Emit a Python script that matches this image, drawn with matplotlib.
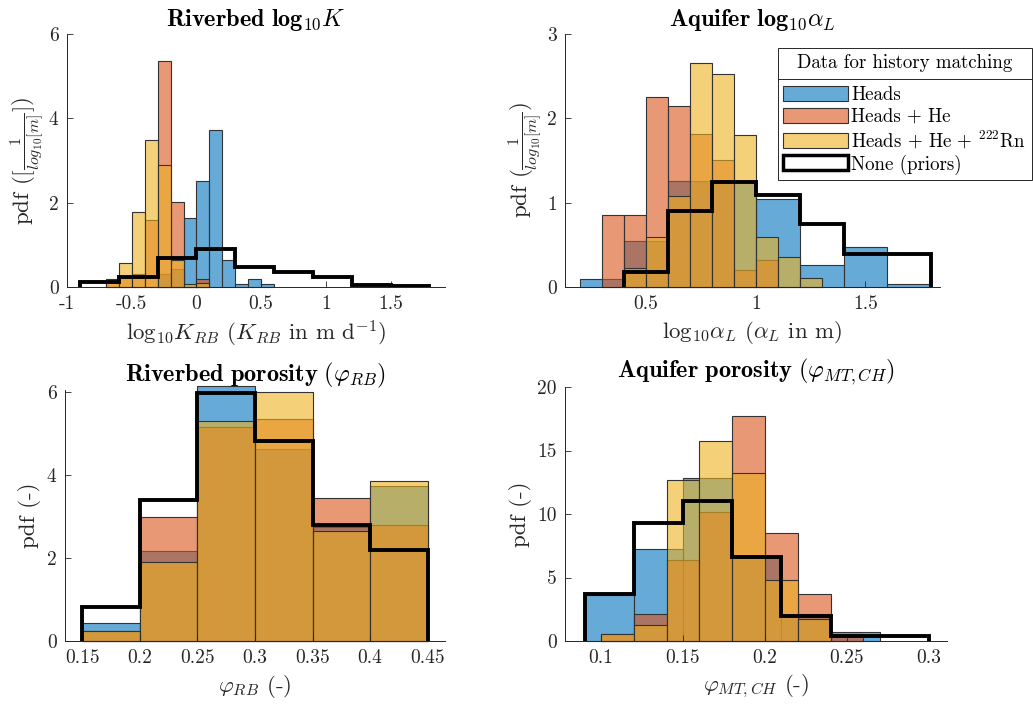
import matplotlib
matplotlib.use("Agg")
import matplotlib.pyplot as plt
from matplotlib.patches import Patch
from matplotlib.lines import Line2D

plt.rcParams.update({
    "font.family": "serif",
    "font.serif": ["cmr10"],
    "mathtext.fontset": "cm",
    "axes.formatter.use_mathtext": True,
    "axes.unicode_minus": False,
})

# MATLAB default colours
c_heads = (0.0, 0.447, 0.741)
c_he = (0.850, 0.325, 0.098)
c_rn = (0.929, 0.694, 0.125)
face_alpha = 0.6

series_labels = ["Heads", "Heads + He", r"Heads + He + $^{222}$Rn", "None (priors)"]

# Riverbed log10 K
k_heads_edges = [-0.3, -0.2, -0.1, 0.0, 0.1, 0.2, 0.3, 0.4, 0.5, 0.6]
k_heads = [0.3, 0.42, 1.63, 2.52, 3.72, 0.63, 0.07, 0.18, 0.07]
k_he_edges = [-0.7, -0.6, -0.5, -0.4, -0.3, -0.2, -0.1, 0.0, 0.1]
k_he = [0.15, 0.25, 0.3, 1.6, 5.37, 2.02, 0.0, 0.18]
k_rn_edges = [-0.7, -0.6, -0.5, -0.4, -0.3, -0.2, -0.1, 0.0, 0.1]
k_rn = [0.2, 0.58, 1.78, 3.48, 2.89, 0.65, 0.08, 0.1]
k_prior_edges = [-0.9, -0.6, -0.3, 0.0, 0.3, 0.6, 0.9, 1.2, 1.5, 1.8]
k_prior = [0.13, 0.24, 0.69, 0.91, 0.48, 0.36, 0.24, 0.04, 0.02]

# Aquifer log10 alpha_L
a_heads_edges = [0.2, 0.4, 0.6, 0.8, 1.0, 1.2, 1.4, 1.6, 1.8]
a_heads = [0.1, 0.54, 1.26, 1.24, 1.04, 0.26, 0.48, 0.04]
a_he_edges = [0.3, 0.4, 0.5, 0.6, 0.7, 0.8, 0.9, 1.0, 1.1]
a_he = [0.85, 0.85, 2.25, 2.15, 1.82, 1.51, 0.2, 0.32]
a_rn_edges = [0.4, 0.5, 0.6, 0.7, 0.8, 0.9, 1.0, 1.1, 1.2, 1.3]
a_rn = [0.23, 0.59, 1.08, 2.66, 2.53, 1.8, 0.59, 0.35, 0.11]
a_prior_edges = [0.4, 0.6, 0.8, 1.0, 1.2, 1.4, 1.6, 1.8]
a_prior = [0.18, 0.9, 1.25, 1.09, 0.75, 0.39, 0.39]

# Riverbed porosity
p_edges = [0.15, 0.2, 0.25, 0.3, 0.35, 0.4, 0.45]
p_heads = [0.44, 2.18, 6.15, 4.62, 2.74, 3.74]
p_he = [0.23, 3.0, 5.16, 5.35, 3.44, 2.8]
p_rn = [0.23, 1.9, 5.3, 6.0, 2.64, 3.85]
p_prior = [0.81, 3.39, 5.98, 4.81, 2.8, 2.19]

# Aquifer porosity
q_heads_edges = [0.09, 0.12, 0.15, 0.18, 0.21, 0.24, 0.27]
q_heads = [3.6, 7.22, 12.86, 6.6, 2.1, 0.71]
q_he_edges = [0.1, 0.12, 0.14, 0.16, 0.18, 0.2, 0.22, 0.24, 0.26]
q_he = [0.58, 2.15, 6.4, 10.16, 17.69, 8.53, 3.73, 0.52]
q_rn_edges = [0.1, 0.12, 0.14, 0.16, 0.18, 0.2, 0.22, 0.24]
q_rn = [0.58, 1.23, 12.7, 15.72, 13.25, 4.83, 1.76]
q_prior_edges = [0.09, 0.12, 0.15, 0.18, 0.21, 0.24, 0.27, 0.3]
q_prior = [3.67, 9.29, 11.0, 6.61, 1.99, 0.39, 0.39]


def hist_bars(ax, edges, heights, color):
    lefts = edges[:-1]
    widths = [b - a for a, b in zip(edges[:-1], edges[1:])]
    ax.bar(lefts, heights, width=widths, align="edge",
           color=color + (face_alpha,), edgecolor="0.2", linewidth=0.8,
           clip_on=False)


def style_axes(ax, xlim, ylim, xticks, xticklabels, yticks):
    ax.set_xlim(xlim)
    ax.set_ylim(ylim)
    ax.set_xticks(xticks, xticklabels)
    ax.set_yticks(yticks, [str(t) for t in yticks])
    for s in ["top", "right"]:
        ax.spines[s].set_visible(False)
    for s in ["left", "bottom"]:
        ax.spines[s].set_color("0.15")
        ax.spines[s].set_linewidth(0.7)
    ax.tick_params(direction="in", length=4, width=0.6, colors="0.15",
                   labelsize=14, pad=6)


fig = plt.figure(figsize=(10.33, 7.07), dpi=100)

W, H = 1033.0, 707.0


def axes_px(x0, x1, ytop, ybot):
    return fig.add_axes([x0 / W, 1 - ybot / H, (x1 - x0) / W, (ybot - ytop) / H])


ax1 = axes_px(67, 445, 34, 287)
ax2 = axes_px(565, 940, 34, 287)
ax3 = axes_px(65, 445, 390, 641)
ax4 = axes_px(565, 947, 387, 641)

panels = [
    (ax1, [(k_heads_edges, k_heads), (k_he_edges, k_he), (k_rn_edges, k_rn)], (k_prior_edges, k_prior)),
    (ax2, [(a_heads_edges, a_heads), (a_he_edges, a_he), (a_rn_edges, a_rn)], (a_prior_edges, a_prior)),
    (ax3, [(p_edges, p_heads), (p_edges, p_he), (p_edges, p_rn)], (p_edges, p_prior)),
    (ax4, [(q_heads_edges, q_heads), (q_he_edges, q_he), (q_rn_edges, q_rn)], (q_prior_edges, q_prior)),
]

for ax, bars, prior in panels:
    for (edges, vals), col in zip(bars, [c_heads, c_he, c_rn]):
        hist_bars(ax, edges, vals, col)
    ax.stairs(prior[1], prior[0], color="k", linewidth=2.8, zorder=5)

style_axes(ax1, (-1.0, 1.92), (0, 6), [-1, -0.5, 0, 0.5, 1, 1.5],
           ["-1", "-0.5", "0", "0.5", "1", "1.5"], [0, 2, 4, 6])
style_axes(ax2, (0.13, 1.84), (0, 3), [0.5, 1, 1.5], ["0.5", "1", "1.5"], [0, 1, 2, 3])
style_axes(ax3, (0.135, 0.465), (0, 6.05), [0.15, 0.2, 0.25, 0.3, 0.35, 0.4, 0.45],
           ["0.15", "0.2", "0.25", "0.3", "0.35", "0.4", "0.45"], [0, 2, 4, 6])
style_axes(ax4, (0.078, 0.311), (0, 20), [0.1, 0.15, 0.2, 0.25, 0.3],
           ["0.1", "0.15", "0.2", "0.25", "0.3"], [0, 5, 10, 15, 20])

tfs, lfs = 17.5, 16.5
ax1.set_title(r"$\mathbf{Riverbed\ log_{10}}K$", fontsize=tfs, pad=6)
ax2.set_title(r"$\mathbf{Aquifer\ log_{10}}\alpha_L$", fontsize=tfs, pad=6)
ax3.set_title(r"$\mathbf{Riverbed\ porosity}\ (\varphi_{RB})$", fontsize=tfs, pad=6)
ax4.set_title(r"$\mathbf{Aquifer\ porosity}\ (\varphi_{MT,CH})$", fontsize=tfs, pad=6)

ax1.set_xlabel(r"$\mathrm{log}_{10}K_{RB}$ ($K_{RB}$ in m d$^{-1}$)", fontsize=lfs, color="0.15")
ax2.set_xlabel(r"$\mathrm{log}_{10}\alpha_L$ ($\alpha_L$ in m)", fontsize=lfs, color="0.15")
ax3.set_xlabel(r"$\varphi_{RB}$ (-)", fontsize=lfs, color="0.15")
ax4.set_xlabel(r"$\varphi_{MT,CH}$ (-)", fontsize=lfs, color="0.15")

ax1.set_ylabel(r"pdf ($[\frac{1}{log_{10}[m]}]$)", fontsize=lfs, color="0.15", labelpad=2)
ax2.set_ylabel(r"pdf ($\frac{1}{log_{10}[m]}$)", fontsize=lfs, color="0.15", labelpad=2)
ax3.set_ylabel("pdf (-)", fontsize=lfs, color="0.15")
ax4.set_ylabel("pdf (-)", fontsize=lfs, color="0.15")

handles = [Patch(facecolor=c + (face_alpha,), edgecolor="0.2", linewidth=0.8)
           for c in [c_heads, c_he, c_rn]]
handles.append(Patch(facecolor="white", edgecolor="k", linewidth=2.5))
leg = ax2.legend(handles, series_labels, title="Data for history matching",
                 loc="upper right", bbox_to_anchor=(1.245, 0.945),
                 fontsize=13.6, title_fontsize=13.6, fancybox=False,
                 edgecolor="0.15", framealpha=1, borderpad=0.3,
                 labelspacing=0.18, handlelength=3.4, handleheight=0.85,
                 handletextpad=0.2, borderaxespad=0)
leg.get_frame().set_linewidth(0.7)
leg.set_zorder(10)
title_gap = 10.5  # points between title and entries
leg._legend_box.sep = title_gap

# separator line under the legend title (MATLAB style)
fig.canvas.draw()
inv = fig.transFigure.inverted()
fb = leg.get_frame().get_window_extent()
tb = leg.get_title().get_window_extent()
y_sep = tb.y0 - title_gap * fig.dpi / 72 / 2
(x0, ys), (x1, _) = inv.transform([(fb.x0, y_sep), (fb.x1, y_sep)])
fig.add_artist(Line2D([x0, x1], [ys, ys], color="0.15", linewidth=0.7, zorder=11))

fig.savefig("out.png", dpi=100)
